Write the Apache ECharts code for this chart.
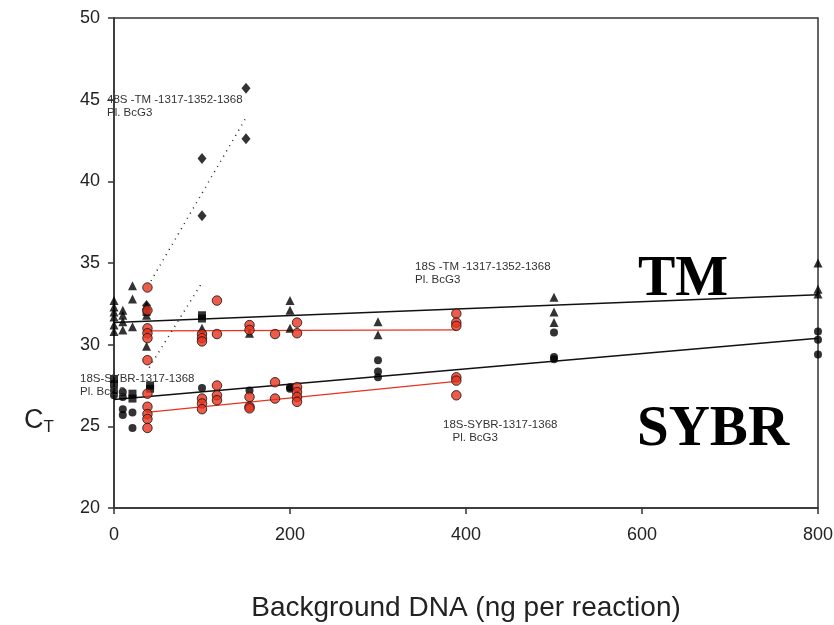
<!DOCTYPE html>
<html><head><meta charset="utf-8">
<script src="https://cdn.jsdelivr.net/npm/echarts@6/dist/echarts.min.js"></script>
<style>html,body{margin:0;padding:0;background:#fff}#c{width:834px;height:625px}</style>
</head><body><div id="c"></div>
<script>
// Black triangles (TM)
const tmTriX = [0,0,0,0,0,0, 10,10,10,10, 21,21,21, 37,37,37, 100, 154, 200,200,200, 300,300, 500,500,500, 800,800,800];
const tmTriY = [32.7,32.3,32.0,31.7,31.2,30.8, 32.1,31.8,31.4,30.9, 33.6,32.8,31.1, 32.4,31.8,29.9, 31.0, 30.7, 32.7,32.1,31.0, 31.4,30.6, 32.9,32.0,31.35, 35.0,33.4,33.1];
// Black squares
const sqX = [0,0, 21,21, 41,41, 100,100, 37];
const sqY = [27.9,27.6, 27.0,26.7, 27.5,27.3, 31.8,31.6, 32.0];
// Black circles (SYBR)
const syCircX = [0,0, 10,10,10,10, 21,21, 100, 154, 200,200, 300,300,300, 500,500,500, 800,800,800];
const syCircY = [27.2,26.9, 27.1,26.8,26.05,25.7, 25.85,24.9, 27.35, 27.2, 27.4,27.3, 29.05,28.35,28.0, 30.75,29.25,29.1, 30.8,30.3,29.4];
// Red circles TM (Pl. BcG3)
const redTmX = [38,38,38,38,38,38, 100,100,100, 117,117, 154,154, 183, 208,208, 389,389,389];
const redTmY = [33.5,32.1,31.0,30.7,30.4,29.05, 30.65,30.4,30.2, 32.7,30.65, 31.2,30.9, 30.65, 31.35,30.7, 31.9,31.35,31.15];
// Red circles SYBR (Pl. BcG3)
const redSyX = [38,38,38,38,38, 100,100,100, 117,117,117, 154,154,154, 183,183, 208,208,208,208, 389,389,389];
const redSyY = [27.0,26.2,25.75,25.45,24.9, 26.7,26.4,26.05, 27.5,26.9,26.6, 26.8,26.2,26.1, 27.7,26.7, 27.4,27.1,26.8,26.5, 28.0,27.8,26.9];
// Diamonds (48S-TM Pl. BcG3)
const diaX = [150,150,100,100,37];
const diaY = [45.7,42.6,41.4,37.9,32.4];
// Regression lines: [x0, y0, x1, y1]
const lineTM = [0,31.35,800,33.05];
const lineSY = [0,26.65,800,30.4];
const lineRedTM = [37,30.85,389,30.9];
const lineRedSY = [37,25.85,389,27.75];
const lineDot1 = [42,33.9,150,43.9];
const lineDot2 = [40,28.6,100,33.8];
const xTicks = [0,200,400,600,800];
const yTicks = [20,25,30,35,40,45,50];

const zip = (xs, ys) => xs.map((x,i)=>[x, ys[i]]);
const seg = l => [[l[0],l[1]],[l[2],l[3]]];
const font = '"Liberation Sans", Arial, sans-serif';
const serif = '"Liberation Serif", "Times New Roman", serif';

const chart = echarts.init(document.getElementById('c'), null, {renderer:'canvas'});
const lineS = (l, color, width, type) => ({
  type:'line', data: seg(l), symbol:'none', silent:true,
  lineStyle:{color, width, type}, z:2
});
chart.setOption({
  animation:false,
  grid:{left:114, top:18, width:704, height:490, show:true, borderColor:'#333', borderWidth:1.5, containLabel:false, outerBoundsMode:'none'},
  xAxis:{type:'value', min:0, max:800, interval:200,
    axisLine:{show:true, onZero:false, lineStyle:{color:'#333', width:1.5}},
    axisTick:{show:true, inside:false, length:6, lineStyle:{color:'#333', width:1.5}},
    axisLabel:{margin:18, fontSize:18, color:'#222', fontFamily:font},
    splitLine:{show:false},
    name:'Background DNA (ng per reaction)', nameLocation:'middle', nameGap:86,
    nameTextStyle:{fontSize:28, color:'#222', fontFamily:font}},
  yAxis:{type:'value', min:20, max:50, interval:5,
    axisLine:{show:true, onZero:false, lineStyle:{color:'#333', width:1.5}},
    axisTick:{show:true, inside:false, length:6, lineStyle:{color:'#333', width:1.5}},
    axisLabel:{margin:14, fontSize:18, color:'#222', fontFamily:font},
    splitLine:{show:false}},
  series:[
    lineS(lineTM,'#111',1.5,'solid'),
    lineS(lineSY,'#111',1.5,'solid'),
    lineS(lineRedTM,'#e8321e',1.2,'solid'),
    lineS(lineRedSY,'#e8321e',1.2,'solid'),
    lineS(lineDot1,'#222',1.5,[1,5]),
    lineS(lineDot2,'#222',1.5,[1,5]),
    {type:'scatter', data:zip(tmTriX,tmTriY), symbol:'triangle', symbolSize:9, itemStyle:{color:'#000'}, z:3},
    {type:'scatter', data:zip(sqX,sqY), symbol:'rect', symbolSize:8, itemStyle:{color:'#000'}, z:3},
    {type:'scatter', data:zip(syCircX,syCircY), symbol:'circle', symbolSize:8, itemStyle:{color:'#000'}, z:3},
    {type:'scatter', data:zip(diaX,diaY), symbol:'diamond', symbolSize:[9,11], itemStyle:{color:'#000'}, z:3},
    {type:'scatter', data:zip(redTmX,redTmY), symbol:'circle', symbolSize:9.5, itemStyle:{color:'#e8321e', borderColor:'#111', borderWidth:1}, z:4},
    {type:'scatter', data:zip(redSyX,redSyY), symbol:'circle', symbolSize:9.5, itemStyle:{color:'#e8321e', borderColor:'#111', borderWidth:1}, z:4}
  ],
  graphic:[
    {type:'text', left:107, top:93, z:10, style:{text:'48S -TM -1317-1352-1368\nPl. BcG3', font:'11.5px '+font, fill:'#333', lineHeight:13}},
    {type:'text', left:415, top:260, z:10, style:{text:'18S -TM -1317-1352-1368\nPl. BcG3', font:'11.5px '+font, fill:'#333', lineHeight:13}},
    {type:'text', left:80, top:372, z:10, style:{text:'18S-SYBR-1317-1368\nPl. BcG3', font:'11.5px '+font, fill:'#333', lineHeight:13}},
    {type:'text', left:443, top:418, z:10, style:{text:'18S-SYBR-1317-1368\n   Pl. BcG3', font:'11.5px '+font, fill:'#333', lineHeight:13}},
    {type:'text', left:638, top:253, z:10, style:{text:'TM', font:'bold 56px '+serif, fill:'#000'}},
    {type:'text', left:637, top:402, z:10, style:{text:'SYBR', font:'bold 57px '+serif, fill:'#000'}},
    {type:'text', left:24, top:407, z:10, style:{text:'{c|C}{t|T}', rich:{c:{fontSize:27, fontFamily:font, fill:'#222'}, t:{fontSize:17, fontFamily:font, fill:'#222', padding:[14,0,0,0]}}}}
  ]
});
</script></body></html>
